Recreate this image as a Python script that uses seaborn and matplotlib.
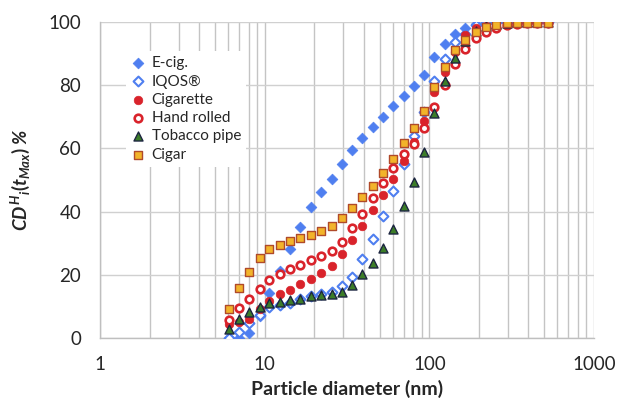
import matplotlib
matplotlib.use("Agg")
import matplotlib.pyplot as plt
import matplotlib.ticker as mticker
import seaborn as sns

# particle diameter bins (nm), 16 per decade
diameter = [6.04, 6.98, 8.06, 9.31, 10.7, 12.4, 14.3, 16.5, 19.1, 22.1, 25.5,
            29.4, 34.0, 39.2, 45.3, 52.3, 60.4, 69.8, 80.6, 93.1, 107.5, 124.1,
            143.3, 165.5, 191.1, 220.7, 254.8, 294.3, 339.8, 392.4, 453.2, 523.3]

ecig = [0.0, 0.2, 1.6, 7.2, 14.4, 21.3, 28.2, 35.3, 41.4, 46.3, 50.3, 55.1,
        59.5, 63.2, 66.7, 69.9, 73.3, 76.4, 79.7, 83.3, 88.9, 92.9, 96.0, 97.9,
        99.3, 99.8, 100, 100, 100, 100, 100, 100]
iqos = [0.0, 1.9, 4.7, 7.4, 9.8, 10.5, 11.0, 12.3, 13.4, 13.9, 14.6, 16.4,
        19.5, 25.0, 31.3, 38.6, 46.5, 55.2, 63.8, 71.5, 81.2, 88.3, 93.6, 96.2,
        99.0, 99.6, 99.8, 99.9, 100, 100, 100, 100]
cigarette = [4.4, 5.0, 6.2, 9.2, 11.7, 13.9, 15.2, 17.2, 18.7, 20.5, 22.9, 26.6,
             31.1, 35.5, 40.5, 45.3, 50.2, 56.0, 62.0, 68.5, 77.7, 84.0, 90.5,
             95.8, 97.9, 98.7, 99.3, 99.6, 99.8, 99.8, 99.8, 99.8]
hand_rolled = [5.8, 9.5, 12.4, 15.7, 18.3, 20.4, 21.8, 23.3, 24.7, 26.1, 27.7,
               30.5, 34.8, 39.3, 44.2, 49.2, 53.7, 58.2, 61.5, 66.5, 73.2, 80.0,
               86.5, 91.5, 94.8, 96.9, 98.0, 99.0, 99.4, 99.6, 99.7, 99.7]
pipe = [3.0, 6.0, 8.4, 10.0, 11.0, 11.5, 12.1, 12.5, 13.3, 13.6, 13.9, 14.7,
        16.8, 20.2, 23.7, 28.5, 34.6, 41.8, 49.5, 58.7, 71.2, 81.4, 88.5, 93.9,
        97.0, 98.6, 99.3, 99.6, 99.8, 99.8, 99.8, 99.8]
cigar = [9.2, 15.8, 20.8, 25.3, 28.1, 29.5, 30.8, 31.8, 32.6, 33.9, 35.5, 38.1,
         41.3, 44.7, 48.1, 52.3, 56.6, 61.6, 66.5, 71.8, 79.3, 85.6, 91.0, 94.3,
         96.8, 98.2, 99.0, 99.5, 99.7, 99.7, 99.7, 99.7]

labels = ["E-cig.", "IQOS\u00ae", "Cigarette", "Hand rolled", "Tobacco pipe", "Cigar"]

sns.set_style("white")
plt.rcParams["font.family"] = ["Lato", "DejaVu Sans"]
plt.rcParams["mathtext.fontset"] = "custom"
plt.rcParams["mathtext.it"] = "Lato:bold:italic"
plt.rcParams["mathtext.rm"] = "Lato:bold"
plt.rcParams["mathtext.bf"] = "Lato:bold"

blue = "#4f7ff0"
red = "#d9232b"

# (values, marker, size, face, edge, edge width)
styles = [
    (ecig, "D", 30, blue, blue, 0.5),
    (iqos, "D", 25, "white", blue, 1.5),
    (cigarette, "o", 38, red, red, 0.5),
    (hand_rolled, "o", 30, "white", red, 1.9),
    (pipe, "^", 42, "#3c7d28", "#1c2540", 1.0),
    (cigar, "s", 32, "#f2b42a", "#b04a2a", 1.0),
]

fig = plt.figure(figsize=(6.21, 4.03), dpi=100)
ax = fig.add_axes([0.161, 0.1605, 0.7955, 0.7855])

for (vals, mk, sz, fc, ec, lw), lab in zip(styles, labels):
    sns.scatterplot(x=diameter, y=vals, marker=mk, s=sz, color=fc,
                    edgecolor=ec, linewidth=lw, label=lab, ax=ax, zorder=3)

ax.set_xscale("log")
ax.set_xlim(1, 1000)
ax.set_ylim(0, 100)
ax.xaxis.set_major_locator(mticker.LogLocator(base=10))
ax.xaxis.set_minor_locator(mticker.LogLocator(base=10, subs=range(2, 10)))
ax.xaxis.set_major_formatter(mticker.FuncFormatter(lambda v, p: f"{v:g}"))
ax.xaxis.set_minor_formatter(mticker.NullFormatter())
ax.yaxis.set_major_locator(mticker.MultipleLocator(20))
ax.yaxis.set_minor_locator(mticker.MultipleLocator(10))

grid_col = "#c4c4c4"
ax.grid(which="both", axis="x", color=grid_col, lw=1.0)
ax.grid(which="major", axis="y", color="#d0d0d0", lw=1.0)
ax.set_axisbelow(True)

for s in ["top", "right"]:
    ax.spines[s].set_visible(False)
for s in ["left", "bottom"]:
    ax.spines[s].set_color("#bfbfbf")
    ax.spines[s].set_linewidth(1.0)

ax.tick_params(axis="y", which="both", direction="out", length=3.6,
               color="#bfbfbf", width=1.0, labelsize=13.5, labelcolor="#262626", pad=10)
ax.tick_params(axis="x", which="both", length=0, labelsize=13.5,
               labelcolor="#262626", pad=13)

ax.set_xlabel("Particle diameter (nm)", fontsize=14, fontweight="bold",
              color="#262626", labelpad=5)
ax.set_ylabel(r"$CD^{H}{}_{i}(t_{Max})$ %", fontsize=13.5, fontweight="bold",
              fontstyle="italic", color="#262626", labelpad=12)

leg = ax.legend(loc="upper left", bbox_to_anchor=(0.052, 0.908), borderaxespad=0,
                frameon=True, facecolor="white", edgecolor="none", framealpha=1,
                fontsize=11, labelspacing=0.28, handletextpad=0.45,
                handlelength=0.9, borderpad=0.35)
for t in leg.get_texts():
    t.set_color("#262626")

fig.savefig("out.png", dpi=100)
